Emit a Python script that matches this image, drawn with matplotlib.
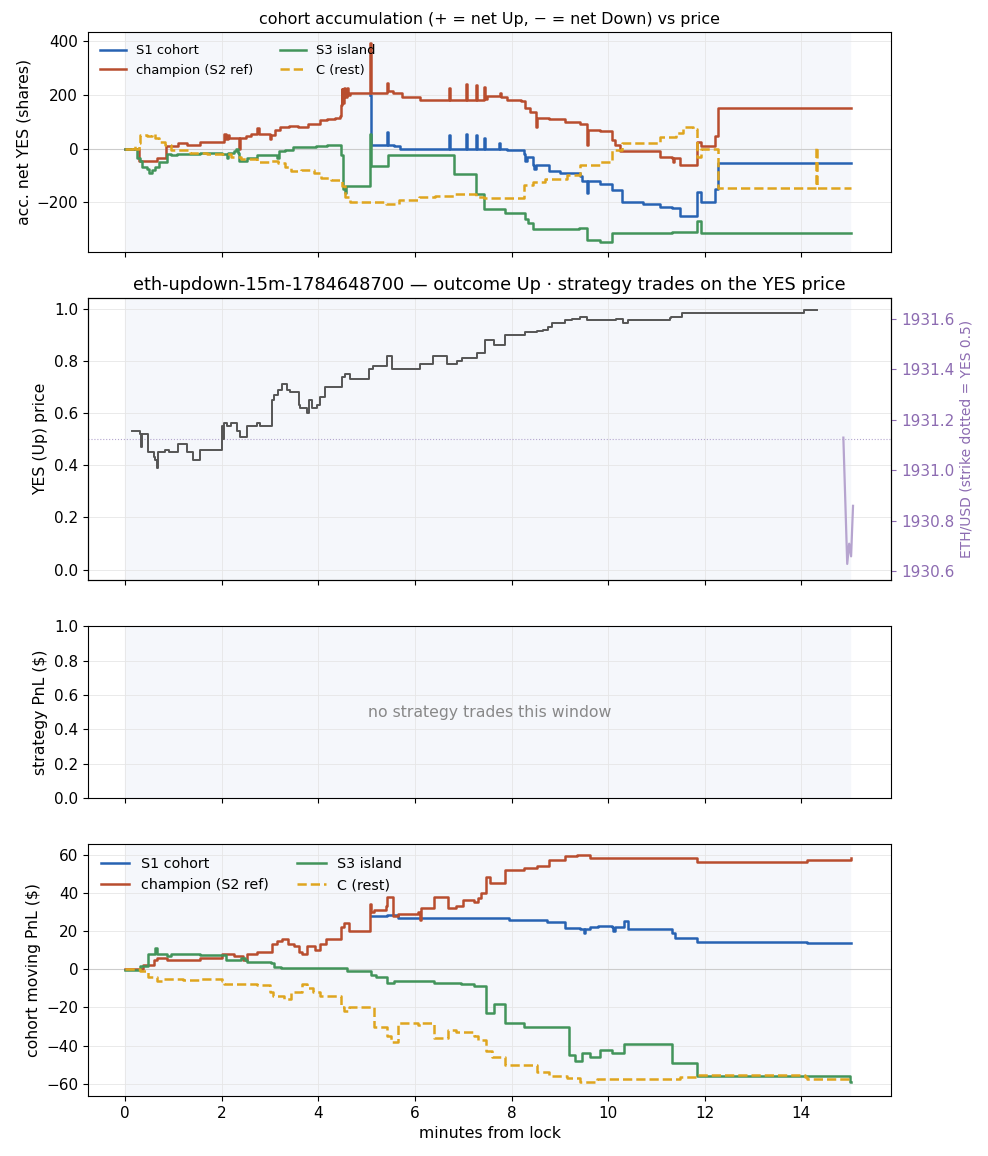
import numpy as np
import matplotlib
matplotlib.use("Agg")
import matplotlib.pyplot as plt

# ---- data (minutes from lock) ----
ch_acc_t = [0, 0.28, 0.66, 0.85, 1.1, 1.28, 1.56, 2.05, 2.08, 2.12, 2.15, 2.35, 2.37, 2.5, 2.6, 2.74, 2.77,
            3.0, 3.02, 3.1, 3.2, 3.4, 3.57, 3.78, 4.03, 4.17, 4.35, 4.44, 4.46, 4.48, 4.5, 4.53, 4.56, 4.6,
            4.62, 4.65, 5.08, 5.1, 5.42, 5.44, 5.55, 5.73, 6.1, 6.7, 6.72, 7.05, 7.07, 7.26, 7.28, 7.43,
            7.45, 7.5, 7.77, 7.79, 7.9, 8.2, 8.28, 8.38, 8.5, 8.52, 8.77, 9.1, 9.42, 9.56, 9.58, 9.83,
            10.08, 10.15, 10.25, 11.08, 11.32, 11.34, 11.36, 11.48, 11.83, 11.93, 12.22, 12.28, 15.03]
ch_acc_v = [0, -45, -35, 10, 20, 15, 25, 55, 35, 50, 40, 0, 40, 45, 55, 75, 55,
            35, 50, 70, 80, 85, 80, 90, 105, 110, 115, 120, 160, 220, 170, 225, 190, 225,
            200, 205, 390, 205, 245, 215, 205, 190, 180, 225, 180, 240, 180, 235, 180, 230,
            185, 195, 205, 190, 180, 175, 150, 135, 80, 115, 110, 100, 90, 15, 70, 65,
            30, 15, -10, -30, -35, -50, -35, -60, 25, 10, 45, 150, 150]

s1_acc_t = [5.08, 5.09, 5.42, 5.44, 5.56, 5.7, 5.85, 6.7, 6.72, 7.05, 7.07, 7.26, 7.28, 7.43, 7.45,
            7.75, 7.77, 7.9, 8.25, 8.28, 8.32, 8.45, 8.47, 8.5, 8.77, 9.0, 9.42, 9.45, 9.56, 9.58,
            9.83, 10.08, 10.28, 10.73, 11.08, 11.32, 11.48, 11.83, 11.93, 12.22, 12.28, 15.03]
s1_acc_v = [200, 15, 60, 15, 10, 0, -3, 50, -3, 55, -3, 50, -3, 40, -3,
            20, -3, -5, -20, -45, -30, -60, -75, -60, -85, -90, -100, -120, -165, -120,
            -130, -155, -200, -205, -215, -220, -250, -160, -200, -150, -55, -55]

s3_acc_t = [0, 0.25, 0.3, 0.35, 0.45, 0.5, 0.56, 0.62, 0.7, 0.87, 0.95, 1.08, 1.56, 2.0, 2.1, 2.13,
            2.25, 2.3, 2.33, 2.36, 2.53, 2.74, 3.02, 3.15, 3.18, 3.3, 3.47, 3.96, 4.17, 4.44, 4.47,
            4.52, 4.55, 4.58, 5.08, 5.1, 5.44, 6.8, 7.26, 7.43, 7.87, 8.28, 8.35, 8.45, 9.35, 9.4,
            9.56, 9.83, 10.08, 11.32, 11.83, 11.93, 15.03]
s3_acc_v = [0, -35, -45, -70, -75, -90, -80, -70, -50, -20, -25, -20, -15, -20, -35, -15,
            -10, 0, -15, -45, -35, -25, -25, -35, -10, -5, 5, 10, 15, 15, -25,
            -150, -165, -140, 55, -65, -25, -95, -170, -225, -238, -260, -275, -300, -300, -295,
            -340, -345, -315, -310, -270, -315, -315]

c_acc_t = [0, 0.17, 0.2, 0.28, 0.31, 0.45, 0.56, 0.62, 0.7, 0.83, 0.94, 1.35, 1.7, 2.19, 2.4, 2.74,
           3.0, 3.16, 3.3, 3.44, 3.65, 3.92, 4.06, 4.27, 4.48, 4.55, 4.65, 5.4, 5.66, 6.08, 6.42, 6.8,
           7.26, 7.43, 8.25, 8.45, 8.7, 9.14, 9.42, 9.83, 10.08, 10.28, 11.08, 11.4, 11.56, 11.76,
           11.83, 11.93, 12.28, 14.3, 14.32, 15.03]
c_acc_v = [0, 10, 0, 20, 50, 45, 55, 40, 25, 15, -5, -15, -20, -30, -40, -50,
           -45, -55, -70, -85, -80, -90, -110, -115, -140, -180, -200, -205, -190, -180, -175, -170,
           -180, -185, -135, -125, -112, -98, -60, -50, -6, 19, 43, 58, 80, 74,
           -31, 0, -148, 5, -148, -148]

price_t = [0.14, 0.31, 0.33, 0.35, 0.48, 0.59, 0.62, 0.66, 0.69, 0.83, 0.9, 1.1, 1.28, 1.41, 1.55,
           2.0, 2.02, 2.05, 2.1, 2.2, 2.31, 2.38, 2.52, 2.72, 2.79, 3.04, 3.08, 3.17, 3.24, 3.35,
           3.42, 3.59, 3.62, 3.76, 3.8, 3.86, 3.97, 4.04, 4.14, 4.49, 4.55, 4.66, 5.04, 5.14, 5.42,
           5.52, 6.11, 6.38, 6.66, 6.87, 6.97, 7.28, 7.45, 7.63, 7.87, 8.28, 8.52, 8.66, 8.76, 8.83,
           9.11, 9.25, 9.42, 9.56, 10.17, 10.3, 10.42, 11.28, 11.31, 11.53, 14.05, 14.32]
price_v = [0.53, 0.52, 0.47, 0.52, 0.45, 0.43, 0.42, 0.39, 0.45, 0.46, 0.45, 0.48, 0.45, 0.42, 0.46,
           0.55, 0.50, 0.56, 0.55, 0.56, 0.53, 0.51, 0.55, 0.56, 0.55, 0.65, 0.67, 0.69, 0.71, 0.69,
           0.68, 0.63, 0.62, 0.60, 0.65, 0.62, 0.63, 0.66, 0.70, 0.74, 0.75, 0.73, 0.77, 0.78, 0.82,
           0.77, 0.79, 0.82, 0.79, 0.80, 0.81, 0.83, 0.88, 0.86, 0.90, 0.91, 0.915, 0.92, 0.93, 0.945,
           0.955, 0.96, 0.97, 0.955, 0.96, 0.945, 0.957, 0.965, 0.97, 0.985, 0.995, 0.995]

eth_t = [14.87, 14.95, 14.99, 15.03, 15.07]
eth_v = [1931.13, 1930.63, 1930.71, 1930.66, 1930.86]
strike = 1931.124

ch_pnl_t = [0, 0.38, 0.59, 0.66, 0.87, 1.56, 2.0, 2.25, 2.45, 2.53, 2.74, 3.05, 3.15, 3.25, 3.38, 3.5,
            3.6, 3.67, 3.77, 3.94, 4.04, 4.15, 4.46, 4.53, 4.64, 5.07, 5.09, 5.16, 5.4, 5.43, 5.54,
            5.64, 6.06, 6.1, 6.12, 6.4, 6.68, 6.85, 6.99, 7.23, 7.3, 7.37, 7.47, 7.55, 7.87, 8.25,
            8.52, 8.77, 9.11, 9.35, 9.63, 11.83, 14.11, 15.03]
ch_pnl_v = [0, 2, 5, 6, 5, 6, 8, 7, 5, 8, 9, 13, 15, 16, 13, 12,
            9, 8, 12, 10, 13, 16, 22, 24, 20, 34, 30, 31, 33, 38, 28,
            29, 30, 26, 32, 38, 32, 33, 36, 35, 37, 40, 48, 45, 52, 53,
            54, 57, 59, 60, 58, 56, 57, 58]

s1_pnl_t = [5.09, 5.43, 5.64, 7.37, 7.94, 8.35, 8.73, 9.11, 9.42, 9.5, 9.52, 9.63, 9.8, 10.08, 10.1,
            10.14, 10.32, 10.42, 11.32, 11.39, 11.83, 14.11, 15.03]
s1_pnl_v = [28, 28.5, 27, 27, 26, 25.5, 24.5, 21.5, 21, 19, 21, 22, 22.5, 22, 20,
            22, 25, 21, 19, 16.5, 14, 13.5, 13.5]

s3_pnl_t = [0, 0.31, 0.48, 0.62, 0.66, 0.87, 0.95, 1.56, 2.08, 2.39, 2.49, 2.53, 3.01, 3.08, 3.22,
            4.6, 5.09, 5.19, 5.43, 5.57, 6.4, 6.96, 7.23, 7.47, 7.63, 7.87, 8.25, 9.18, 9.32, 9.46,
            9.63, 9.83, 10.08, 10.32, 11.32, 11.83, 15.0, 15.03]
s3_pnl_v = [-0.3, 1.5, 8, 11, 8, 7, 8, 7.5, 5, 6, 5, 4, 3, 1, 0.5,
            -1, -3, -4, -7, -6, -7, -8, -9, -23, -18, -28, -30, -45, -48, -44,
            -46, -42.5, -44, -39, -49, -56, -59, -59]

c_pnl_t = [0, 0.31, 0.48, 0.66, 0.8, 1.2, 1.56, 2.0, 2.04, 2.74, 3.0, 3.07, 3.29, 3.43, 3.67, 3.77,
           3.9, 4.04, 4.46, 4.53, 4.64, 5.16, 5.43, 5.5, 5.64, 6.06, 6.12, 6.4, 6.68, 6.85, 7.23,
           7.3, 7.47, 7.6, 7.87, 8.52, 8.77, 9.14, 9.42, 9.77, 11.49, 11.83, 14.08, 14.11, 15.03]
c_pnl_v = [0, -1, -4, -6, -5, -5.5, -5, -6, -7.5, -8.5, -12, -14, -15.5, -12, -8, -10,
           -12, -14, -20, -22, -20, -30, -35, -38, -28, -29, -28, -36, -32, -33, -35,
           -37, -43, -46, -50, -54, -56, -57, -59, -57.5, -56.5, -55.5, -56.5, -57.5, -57.5]

labels = ["S1 cohort", "champion (S2 ref)", "S3 island", "C (rest)"]
colors = ["#2762b2", "#b84d2e", "#42945a", "#dfa51e"]
styles = ["-", "-", "-", "--"]

acc = [(s1_acc_t, s1_acc_v), (ch_acc_t, ch_acc_v), (s3_acc_t, s3_acc_v), (c_acc_t, c_acc_v)]
pnl = [(s1_pnl_t, s1_pnl_v), (ch_pnl_t, ch_pnl_v), (s3_pnl_t, s3_pnl_v), (c_pnl_t, c_pnl_v)]

window_end = 15.0
shade = "#f5f7fb"
purple = "#8c6bb1"

plt.rcParams["xtick.labelsize"] = 11
plt.rcParams["ytick.labelsize"] = 11
plt.rcParams["axes.labelsize"] = 11.3

fig = plt.figure(figsize=(9.88, 11.56), dpi=100)
gs = fig.add_gridspec(4, 1, height_ratios=[2.2, 2.82, 1.72, 2.52], hspace=0.2,
                      left=0.089, right=0.902, top=0.972, bottom=0.052)
ax1 = fig.add_subplot(gs[0])
ax2 = fig.add_subplot(gs[1], sharex=ax1)
ax3 = fig.add_subplot(gs[2], sharex=ax1)
ax4 = fig.add_subplot(gs[3], sharex=ax1)

for ax in (ax1, ax2, ax3, ax4):
    ax.axvspan(0, window_end, color=shade, zorder=0)
    ax.grid(True, color="#e6e6e6", lw=0.6, zorder=0.5)
    ax.set_axisbelow(True)

# top: cohort accumulation
ax1.axhline(0, color="#cccccc", lw=0.8, zorder=1)
for (t, v), lab, c, ls in zip(acc, labels, colors, styles):
    ax1.plot(t, v, drawstyle="steps-post", color=c, ls=ls, lw=1.8, label=lab, zorder=2)
ax1.set_ylim(-384, 431)
ax1.set_ylabel("acc. net YES (shares)")
ax1.set_title("cohort accumulation (+ = net Up, \u2212 = net Down) vs price", fontsize=11.4)
ax1.legend(loc="upper left", ncol=2, fontsize=9.4, frameon=False)

# price panel
ax2.plot(price_t, price_v, drawstyle="steps-post", color="#555555", lw=1.4, zorder=3)
ax2.axhline(0.5, color="#b4a6cf", lw=0.8, ls=":", zorder=1)
ax2.set_ylim(-0.04, 1.04)
ax2.set_ylabel("YES (Up) price")
ax2.set_title("eth-updown-15m-1784648700 \u2014 outcome Up \u00b7 strategy trades on the YES price",
              fontsize=12.8)
ax2b = ax2.twinx()
ax2b.plot(eth_t, eth_v, color="#b6a4cf", lw=1.6)
k = 1.0324
ax2b.set_ylim(strike - 0.54 * k, strike + 0.54 * k)
ax2b.set_yticks([1930.6, 1930.8, 1931.0, 1931.2, 1931.4, 1931.6])
ax2b.tick_params(axis="y", colors=purple)
ax2b.set_ylabel("ETH/USD (strike dotted = YES 0.5)", color=purple, fontsize=10)

# strategy pnl
ax3.set_ylim(0, 1)
ax3.set_ylabel("strategy PnL ($)")
ax3.text(0.5, 0.5, "no strategy trades this window", transform=ax3.transAxes,
         ha="center", va="center", color="#888888", fontsize=11.3)

# cohort pnl
ax4.axhline(0, color="#cccccc", lw=0.8, zorder=1)
for (t, v), lab, c, ls in zip(pnl, labels, colors, styles):
    ax4.plot(t, v, drawstyle="steps-post", color=c, ls=ls, lw=1.8, label=lab, zorder=2)
ax4.set_ylim(-66.3, 65.4)
ax4.set_ylabel("cohort moving PnL ($)")
ax4.set_xlabel("minutes from lock")
ax4.legend(loc="upper left", ncol=2, fontsize=10.3, frameon=False)

ax1.set_xlim(-0.77, 15.86)
for ax in (ax1, ax2, ax3):
    ax.tick_params(labelbottom=False)

fig.savefig("out.png", dpi=100)
